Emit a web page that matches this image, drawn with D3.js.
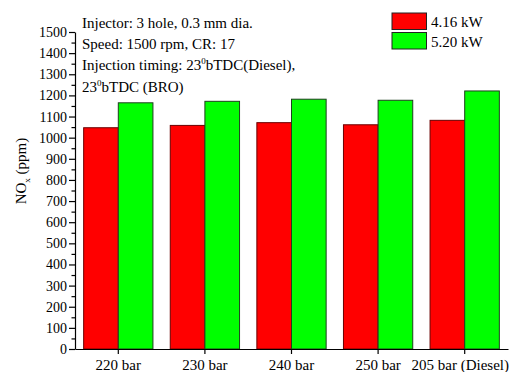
<!DOCTYPE html>
<html>
<head>
<meta charset="utf-8">
<script src="https://cdn.jsdelivr.net/npm/d3@7"></script>
<style>
  body { margin: 0; background: #fff; }
  svg { display: block; font-family: "Liberation Serif", "Times New Roman", serif; }
  .axis path, .axis line { stroke: #000; stroke-width: 1.2; }
  .axis text { fill: #000; }
</style>
</head>
<body>
<div id="chart"></div>
<script>
// categories and series (NOx in ppm)
var categories = ['220 bar', '230 bar', '240 bar', '250 bar', '205 bar (Diesel)']
var seriesNames = ['4.16 kW', '5.20 kW']
var nox416 = [1047, 1058, 1071, 1061, 1082]
var nox520 = [1165, 1172, 1182, 1177, 1221]
var yTicks = [0, 100, 200, 300, 400, 500, 600, 700, 800, 900, 1000, 1100, 1200, 1300, 1400, 1500]
var notes = ['Injector: 3 hole, 0.3 mm dia.', 'Speed: 1500 rpm, CR: 17']

var width = 511, height = 372
var margin = {top: 32, right: 3, bottom: 23, left: 75}
var colors = ['#ff0000', '#00ff00']
var strokes = ['#6b0000', '#1f3f1f']
var serif = '"Liberation Serif", "Times New Roman", serif'

var svg = d3.select('#chart').append('svg')
    .attr('width', width)
    .attr('height', height)

var x0 = d3.scaleBand()
    .domain(categories)
    .range([margin.left, width - margin.right])

var x1 = d3.scaleBand()
    .domain(seriesNames)
    .range([0, x0.bandwidth()])
    .paddingInner(0)
    .paddingOuter(0.25)

var y = d3.scaleLinear()
    .domain([0, 1500])
    .range([height - margin.bottom, margin.top])

var rows = categories.map(function(c, i) {
  return {cat: c, values: [nox416[i], nox520[i]]}
})

// bars
var groups = svg.append('g').selectAll('g')
    .data(rows)
  .enter().append('g')
    .attr('transform', function(d) { return 'translate(' + x0(d.cat) + ',0)' })

groups.selectAll('rect')
    .data(function(d) { return d.values.map(function(v, k) { return {k: k, v: v} }) })
  .enter().append('rect')
    .attr('x', function(d) { return x1(seriesNames[d.k]) })
    .attr('y', function(d) { return y(d.v) })
    .attr('width', x1.bandwidth())
    .attr('height', function(d) { return y(0) - y(d.v) })
    .attr('fill', function(d) { return colors[d.k] })
    .attr('stroke', function(d) { return strokes[d.k] })
    .attr('stroke-width', 1)

// y axis, minor then major
svg.append('g')
    .attr('class', 'axis')
    .attr('transform', 'translate(' + margin.left + ',0)')
    .call(d3.axisLeft(y).tickValues(d3.range(50, 1500, 100)).tickSize(3.5).tickFormat(''))
    .select('.domain').remove()

svg.append('g')
    .attr('class', 'axis')
    .attr('transform', 'translate(' + margin.left + ',0)')
    .call(d3.axisLeft(y).tickValues(yTicks).tickFormat(d3.format('d')).tickSize(6).tickSizeOuter(0).tickPadding(2))
    .attr('font-family', serif)
    .attr('font-size', 14)

// x axis
var xAxis = svg.append('g')
    .attr('class', 'axis')
    .attr('transform', 'translate(0,' + y(0) + ')')
    .call(d3.axisBottom(x0).tickSize(5).tickSizeOuter(0).tickPadding(5))
    .attr('font-family', serif)
    .attr('font-size', 15)

// keep the last label inside the window, as in the original export
xAxis.selectAll('.tick').each(function(d) {
  var t = d3.select(this).select('text')
  var b = t.node().getBBox()
  var right = x0(d) + x0.bandwidth() / 2 + b.x + b.width
  if (right > width - 2) t.attr('x', (width - 2) - right)
})

// y axis title
var yTitle = svg.append('text')
    .attr('transform', 'translate(26,171) rotate(-90)')
    .attr('text-anchor', 'middle')
    .style('font-size', '15px')
yTitle.append('tspan').text('NO')
yTitle.append('tspan').attr('dy', 4).style('font-size', '9px').text('x')
yTitle.append('tspan').attr('dy', -4).text(' (ppm)')

// annotation text
var ann = svg.append('g').style('font-size', '15px')
notes.forEach(function(t, i) {
  ann.append('text').attr('x', 82).attr('y', 28 + i * 20.5).text(t)
})
var l3 = ann.append('text').attr('x', 82).attr('y', 70)
l3.append('tspan').text('Injection timing: 23')
l3.append('tspan').attr('dy', -6).style('font-size', '9px').text('0')
l3.append('tspan').attr('dy', 6).text('bTDC(Diesel),')
var l4 = ann.append('text').attr('x', 82).attr('y', 92)
l4.append('tspan').text('23')
l4.append('tspan').attr('dy', -6).style('font-size', '9px').text('0')
l4.append('tspan').attr('dy', 6).text('bTDC (BRO)')

// legend
var legend = svg.append('g').attr('transform', 'translate(392,13)')
seriesNames.forEach(function(name, i) {
  legend.append('rect')
      .attr('x', 0).attr('y', i * 19.5)
      .attr('width', 34.5).attr('height', 16.5)
      .attr('fill', colors[i])
      .attr('stroke', '#222').attr('stroke-width', 1)
  legend.append('text')
      .attr('x', 39).attr('y', i * 19.5 + 14)
      .style('font-size', '15px')
      .text(name)
})
</script>
</body>
</html>
